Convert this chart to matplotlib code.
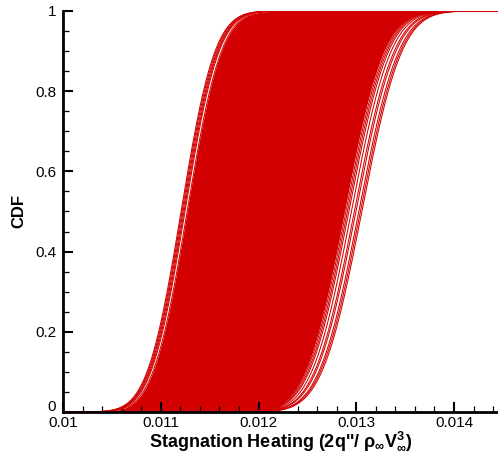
import numpy as np
import matplotlib
matplotlib.use("Agg")
import matplotlib.pyplot as plt
import matplotlib.transforms as mtransforms
from matplotlib.ticker import MultipleLocator, FixedLocator
from math import erf, sqrt

# Fitted normal CDFs of stagnation heating: mean and standard deviation per sample curve
left_means = [0.011208, 0.011218, 0.011228, 0.011238, 0.011248]
left_stds = [0.000272, 0.000272, 0.000273, 0.000273, 0.000273]

right_means = [0.012894, 0.012909, 0.012924, 0.012950, 0.012980,
               0.012996, 0.013026, 0.013042, 0.013057]
right_stds = [0.000317, 0.000317, 0.000318, 0.000318, 0.000319,
              0.000320, 0.000320, 0.000321, 0.000321]

# Dense core of the ensemble (bounded by its first and last member)
core_means = [0.011270, 0.012878]
core_stds = [0.000274, 0.000316]

x_ticks = [0.010, 0.011, 0.012, 0.013, 0.014]
x_tick_labels = ["0.01", "0.011", "0.012", "0.013", "0.014"]
y_ticks = [0, 0.2, 0.4, 0.6, 0.8, 1]
y_tick_labels = ["0", "0.2", "0.4", "0.6", "0.8", "1"]

RED = "#d20000"

_erf = np.vectorize(erf)


def normal_cdf(x, mu, sd):
    return 0.5 * (1.0 + _erf((x - mu) / (sd * sqrt(2.0))))


plt.rcParams["font.family"] = ["Liberation Sans", "DejaVu Sans"]
plt.rcParams["mathtext.fontset"] = "custom"
plt.rcParams["mathtext.rm"] = "Liberation Sans:bold"
plt.rcParams["mathtext.it"] = "Liberation Sans:bold"
plt.rcParams["mathtext.bf"] = "Liberation Sans:bold"

fig = plt.figure(figsize=(4.98, 4.54), dpi=100)
ax = fig.add_axes([0.1265, 0.0925, 0.8735, 0.8833])

xs = np.linspace(0.0100, 0.01450, 2500)

ax.fill_between(xs, normal_cdf(xs, core_means[1], core_stds[1]),
                normal_cdf(xs, core_means[0], core_stds[0]),
                color=RED, linewidth=0)
for mu, sd in zip(core_means + left_means + right_means,
                  core_stds + left_stds + right_stds):
    ax.plot(xs, normal_cdf(xs, mu, sd), color=RED, linewidth=0.75)

ax.set_xlim(0.0100, 0.01445)
ax.set_ylim(0, 1)

for side in ("top", "right"):
    ax.spines[side].set_visible(False)
for side in ("left", "bottom"):
    ax.spines[side].set_linewidth(2.0)
    ax.spines[side].set_zorder(5)

ax.xaxis.set_major_locator(FixedLocator(x_ticks))
ax.set_xticklabels(x_tick_labels)
ax.xaxis.set_minor_locator(MultipleLocator(0.0002))
ax.yaxis.set_major_locator(FixedLocator(y_ticks))
ax.set_yticklabels(y_tick_labels)
ax.yaxis.set_minor_locator(MultipleLocator(0.05))

ax.tick_params(which="both", direction="in", top=False, right=False,
               labelsize=11)
ax.tick_params(axis="x", which="major", pad=3)
ax.tick_params(axis="y", which="major", pad=5)
ax.tick_params(which="major", length=7.5, width=1.5)
ax.tick_params(which="minor", length=4.3, width=0.9)

# lift the zero label on the y axis so it clears the first x label
zero_label = ax.get_yticklabels()[0]
zero_label.set_transform(zero_label.get_transform()
                         + mtransforms.ScaledTranslation(0, 5 / 72, fig.dpi_scale_trans))

ax.set_xlabel(r"Stagnation Heating (2q''/ $\rho_{\infty}$V$_{\infty}^{3}$)",
              fontsize=13, fontweight="bold", labelpad=0)
ax.set_ylabel("CDF", fontsize=12, fontweight="bold", labelpad=6)

fig.savefig("out.png", dpi=100)
